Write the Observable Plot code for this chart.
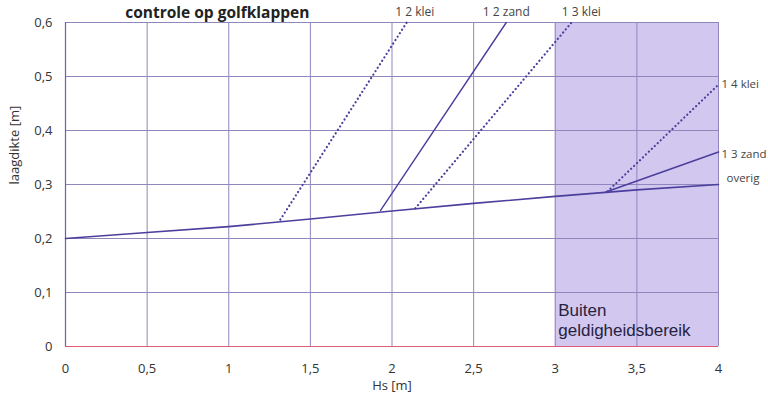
<!DOCTYPE html>
<html><head><meta charset="utf-8">
<script src="https://cdn.jsdelivr.net/npm/d3@7"></script>
<script src="https://cdn.jsdelivr.net/npm/@observablehq/plot@0.6"></script>
<style>body{margin:0;background:#fff;} svg{display:block;}</style>
</head><body><div id="chart"></div>
<script>
const xTicks = [0, 0.5, 1, 1.5, 2, 2.5, 3, 3.5, 4];
const yTicks = [0, 0.1, 0.2, 0.3, 0.4, 0.5, 0.6];
const overigHs = [0, 0.5, 1, 1.5, 2, 2.5, 3, 3.5, 4];
const overigVal = [0.2, 0.211, 0.222, 0.236, 0.251, 0.265, 0.278, 0.29, 0.30];
const klei12Hs = [1.316, 2.09], klei12Val = [0.235, 0.6];
const zand12Hs = [1.93, 2.70], zand12Val = [0.252, 0.6];
const klei13Hs = [2.143, 3.10], klei13Val = [0.256, 0.6];
const klei14Hs = [3.32, 4], klei14Val = [0.287, 0.485];
const zand13Hs = [3.31, 4], zand13Val = [0.286, 0.36];
const regionX = [3, 4];
const topLabels = ["1 2 klei", "1 2 zand", "1 3 klei"];
const topLabelX = [2.14, 2.70, 3.16];
const rightLabels = ["1 4 klei", "1 3 zand"];
const rightLabelY = [0.485, 0.355];
const overigLabel = "overig";
const overigLabelY = 0.312;

const pts = (xs, ys) => xs.map((x, i) => ({x, y: ys[i]}));
const lineCol = "#4b3f9e";
const gridCol = "#8f86bc";
const fmt = d => String(d).replace(".", ",");

const chart = Plot.plot({
  width: 768, height: 398,
  marginLeft: 65, marginRight: 50, marginTop: 22, marginBottom: 52,
  style: {fontFamily: "Open Sans", fontSize: "13px", color: "#333"},
  x: {domain: [0, 4], ticks: xTicks, tickFormat: fmt, tickSize: 0, tickPadding: 17, label: "Hs [m]", labelAnchor: "center", labelArrow: "none", labelOffset: 43},
  y: {domain: [0, 0.6], ticks: yTicks, tickFormat: fmt, tickSize: 0, tickPadding: 13, label: null},
  marks: [
    Plot.rect([{x1: regionX[0], x2: regionX[1]}], {x1: "x1", x2: "x2", y1: 0, y2: 0.6, fill: "#d2c7ee"}),
    Plot.gridX(xTicks, {stroke: gridCol, strokeOpacity: 1, strokeWidth: 1}),
    Plot.gridY(yTicks.filter(d => d > 0), {stroke: gridCol, strokeOpacity: 1, strokeWidth: 1}),
    Plot.ruleX([0], {stroke: "#6a5fb0", strokeWidth: 1.2}),
    Plot.ruleY([0], {stroke: "#e05a78", strokeWidth: 1.2}),
    Plot.line(pts(overigHs, overigVal), {x: "x", y: "y", stroke: lineCol, strokeWidth: 1.6}),
    Plot.line(pts(zand12Hs, zand12Val), {x: "x", y: "y", stroke: lineCol, strokeWidth: 1.4}),
    Plot.line(pts(zand13Hs, zand13Val), {x: "x", y: "y", stroke: lineCol, strokeWidth: 1.6}),
    Plot.line(pts(klei12Hs, klei12Val), {x: "x", y: "y", stroke: lineCol, strokeWidth: 2.2, strokeDasharray: "0.1,4", strokeLinecap: "round"}),
    Plot.line(pts(klei13Hs, klei13Val), {x: "x", y: "y", stroke: lineCol, strokeWidth: 2.2, strokeDasharray: "0.1,4", strokeLinecap: "round"}),
    Plot.line(pts(klei14Hs, klei14Val), {x: "x", y: "y", stroke: lineCol, strokeWidth: 2.2, strokeDasharray: "0.1,4", strokeLinecap: "round"}),
    Plot.text(topLabels, {x: (d, i) => topLabelX[i], y: 0.6, dy: -10, fontSize: 12, fill: "#444", fontFamily: "Open Sans"}),
    Plot.text(rightLabels, {x: 4, y: (d, i) => rightLabelY[i], dx: 3, textAnchor: "start", fontSize: 11.5, fill: "#444", fontFamily: "Open Sans"}),
    Plot.text([overigLabel], {x: 4, y: overigLabelY, dx: 8, textAnchor: "start", fontSize: 11.5, fill: "#444", fontFamily: "Open Sans"}),
    Plot.text(["controle op golfklappen"], {x: 0.93, y: 0.6, dy: -9, fontSize: 15.5, fontWeight: "bold", fill: "#222", fontFamily: "Open Sans"}),
    Plot.text(["Buiten"], {x: 3, y: 0, dx: 3, dy: -36, textAnchor: "start", fontSize: 17, fill: "#262240", fontFamily: "Liberation Sans"}),
    Plot.text(["geldigheidsbereik"], {x: 3, y: 0, dx: 3, dy: -16, textAnchor: "start", fontSize: 17, fill: "#262240", fontFamily: "Liberation Sans"}),
    Plot.text(["laagdikte [m]"], {frameAnchor: "left", dx: -51, rotate: -90, fontSize: 13, fill: "#333", fontFamily: "Open Sans"})
  ]
});
document.getElementById("chart").append(chart);
</script>
</body></html>
